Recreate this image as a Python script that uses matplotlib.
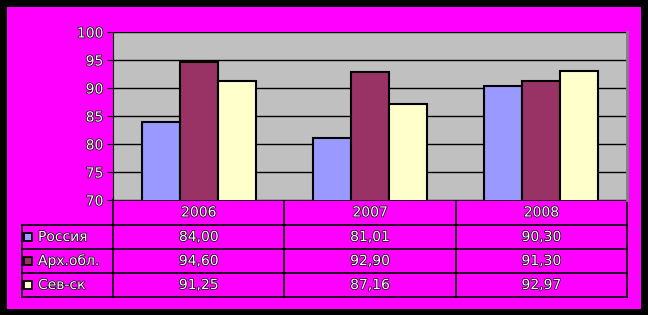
import matplotlib.pyplot as plt
import matplotlib.patheffects as pe
from matplotlib.patches import Rectangle

years = ['2006', '2007', '2008']
series = ['Россия', 'Арх.обл.', 'Сев-ск']
russia = [84.00, 81.01, 90.30]
arh = [94.60, 92.90, 91.30]
sev = [91.25, 87.16, 92.97]
colors = ['#9999FF', '#993366', '#FFFFCC']

W, H = 648, 315
fig = plt.figure(figsize=(W / 100, H / 100), dpi=100)
fig.patch.set_facecolor('black')

# overlay in pixel coords for frame and table
ov = fig.add_axes([0, 0, 1, 1], zorder=0)
ov.set_xlim(0, W)
ov.set_ylim(H, 0)
ov.axis('off')
ov.add_patch(Rectangle((7, 7), 634, 302, facecolor='#FF00FF', edgecolor='none'))

x0, x1, y0, y1 = 113, 627, 32, 200
ax = fig.add_axes([x0 / W, 1 - y1 / H, (x1 - x0) / W, (y1 - y0) / H], zorder=2)
ax.set_facecolor('#C0C0C0')

bw = 0.222
all_vals = [russia, arh, sev]
for j, vals in enumerate(all_vals):
    xs = [i + (j - 1) * bw for i in range(len(years))]
    ax.bar(xs, vals, width=bw, color=colors[j], edgecolor='black', linewidth=1.5, zorder=3)

ax.set_xlim(-0.5, len(years) - 0.5)
ax.set_ylim(70, 100)
ax.set_yticks(range(70, 101, 5))
ax.yaxis.grid(True, color='black', linewidth=1)
ax.set_axisbelow(True)
ax.set_xticks([])
for s in ['top', 'bottom']:
    ax.spines[s].set_visible(False)
ax.spines['right'].set_color('#808080')
ax.spines['right'].set_linewidth(2)
ax.spines['left'].set_color('black')
ax.tick_params(axis='y', length=4, color='black', pad=3)

fs = 10
txt_fx = [pe.withStroke(linewidth=1.0, foreground='black')]
for lab in ax.get_yticklabels():
    lab.set_color('white')
    lab.set_fontsize(fs)
    lab.set_path_effects(txt_fx)

# table
fig.canvas.draw()
cols = []
for i in range(len(years) + 1):
    px = ax.transData.transform((i - 0.5, 70))[0]
    cols.append(px)
rows = [200, 225, 249, 273, 297]
left = 22
lw = 1.2
ov.plot([cols[0], cols[-1]], [rows[0], rows[0]], color='black', lw=lw)
for r in rows[1:]:
    ov.plot([left, cols[-1]], [r, r], color='black', lw=lw)
ov.plot([left, left], [rows[1], rows[-1]], color='black', lw=lw)
for c in cols:
    ov.plot([c, c], [rows[0], rows[-1]], color='black', lw=lw)

tkw = dict(color='white', fontsize=fs, path_effects=txt_fx, va='center', ha='center')
for i, y in enumerate(years):
    ov.text((cols[i] + cols[i + 1]) / 2, (rows[0] + rows[1]) / 2, y, **tkw)
for j, name in enumerate(series):
    yc = (rows[j + 1] + rows[j + 2]) / 2
    ov.add_patch(Rectangle((24, yc - 4), 8, 8, facecolor=colors[j], edgecolor='black', lw=1.3))
    ov.text(38, yc, name, color='white', fontsize=fs, path_effects=txt_fx, va='center', ha='left')
    for i, v in enumerate(all_vals[j]):
        ov.text((cols[i] + cols[i + 1]) / 2, yc, f'{v:.2f}'.replace('.', ','), **tkw)

fig.savefig('out.png', dpi=100, facecolor=fig.get_facecolor())
